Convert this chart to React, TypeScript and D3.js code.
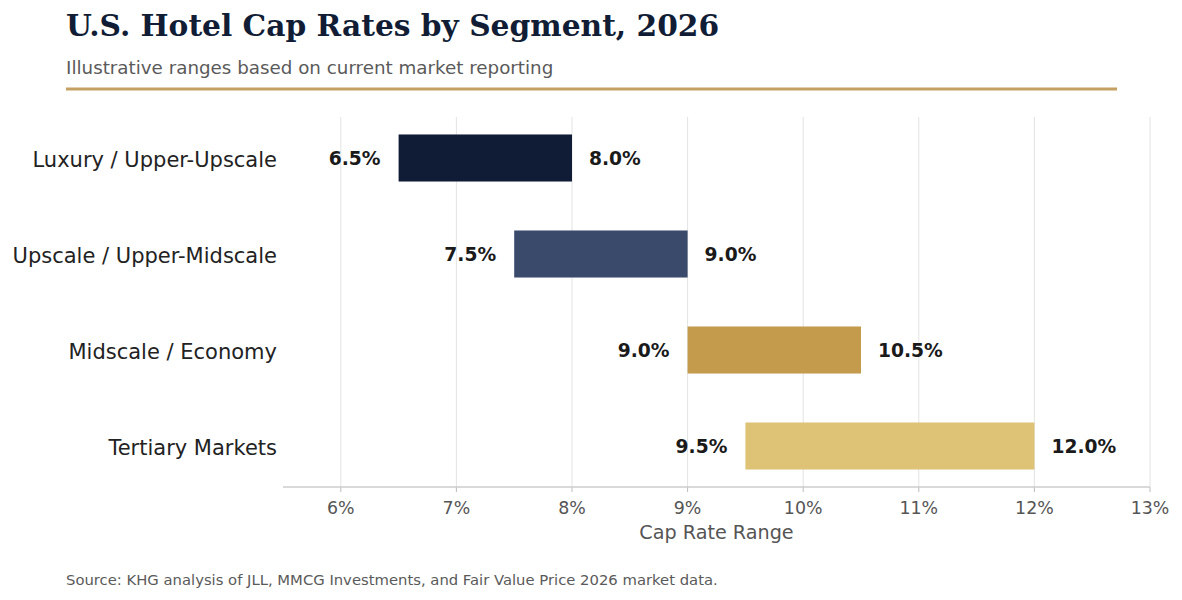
import React from "react";
import * as d3 from "d3";

const segments = ["Luxury / Upper-Upscale", "Upscale / Upper-Midscale", "Midscale / Economy", "Tertiary Markets"];
const lowValues = [6.5, 7.5, 9.0, 9.5];
const highValues = [8.0, 9.0, 10.5, 12.0];
const barColors = ["#101c35", "#3a4a6b", "#c49b4c", "#dec276"];
const xTicks = [6, 7, 8, 9, 10, 11, 12, 13];

const W = 1182, H = 600;
const plot = { left: 283, right: 1150, top: 117, bottom: 487 };

export default function App() {
  const x = d3.scaleLinear().domain([5.5, 13]).range([plot.left, plot.right]);
  const y = d3.scaleLinear().domain([-0.427, 3.427]).range([plot.top, plot.bottom]);
  const barH = y(0.49) - y(0);
  const sans = "DejaVu Sans, sans-serif";
  return (
    <div style={{ position: "fixed", left: 0, top: 0 }}>
      <svg width={W} height={H} style={{ display: "block", background: "#fff" }}>
        <text x={66} y={36} fontFamily="DejaVu Serif, serif" fontWeight="bold" fontSize={29.7} fill="#111d35">
          U.S. Hotel Cap Rates by Segment, 2026
        </text>
        <text x={66} y={74} fontFamily={sans} fontSize={18.3} fill="#5a5a5a">
          Illustrative ranges based on current market reporting
        </text>
        <line x1={66} x2={1117} y1={89} y2={89} stroke="#c4a062" strokeWidth={3} />
        {xTicks.map((t) => (
          <g key={t}>
            <line x1={x(t)} x2={x(t)} y1={plot.top} y2={plot.bottom} stroke="#e3e3e3" strokeWidth={1} />
            <line x1={x(t)} x2={x(t)} y1={plot.bottom} y2={plot.bottom + 5} stroke="#bbbbbb" strokeWidth={1} />
            <text x={x(t)} y={514} textAnchor="middle" fontFamily={sans} fontSize={17.4} fill="#555">
              {t}%
            </text>
          </g>
        ))}
        <line x1={plot.left} x2={plot.right} y1={plot.bottom} y2={plot.bottom} stroke="#cccccc" strokeWidth={1.5} />
        <text x={(plot.left + plot.right) / 2} y={539} textAnchor="middle" fontFamily={sans} fontSize={19.2} fill="#555">
          Cap Rate Range
        </text>
        {segments.map((s, i) => {
          const cy = y(i);
          return (
            <g key={s}>
              <rect x={x(lowValues[i])} y={cy - barH / 2} width={x(highValues[i]) - x(lowValues[i])} height={barH} fill={barColors[i]} />
              <text x={277} y={cy + 2} dy="0.35em" textAnchor="end" fontFamily={sans} fontSize={21} fill="#222">
                {s}
              </text>
              <text x={x(lowValues[i]) - 18} y={cy} dy="0.35em" textAnchor="end" fontFamily={sans} fontWeight="bold" fontSize={18.7} fill="#1a1a1a">
                {lowValues[i].toFixed(1)}%
              </text>
              <text x={x(highValues[i]) + 17} y={cy} dy="0.35em" textAnchor="start" fontFamily={sans} fontWeight="bold" fontSize={18.7} fill="#1a1a1a">
                {highValues[i].toFixed(1)}%
              </text>
            </g>
          );
        })}
        <text x={66} y={585} fontFamily={sans} fontSize={14.8} fill="#5a5a5a">
          Source: KHG analysis of JLL, MMCG Investments, and Fair Value Price 2026 market data.
        </text>
      </svg>
    </div>
  );
}
